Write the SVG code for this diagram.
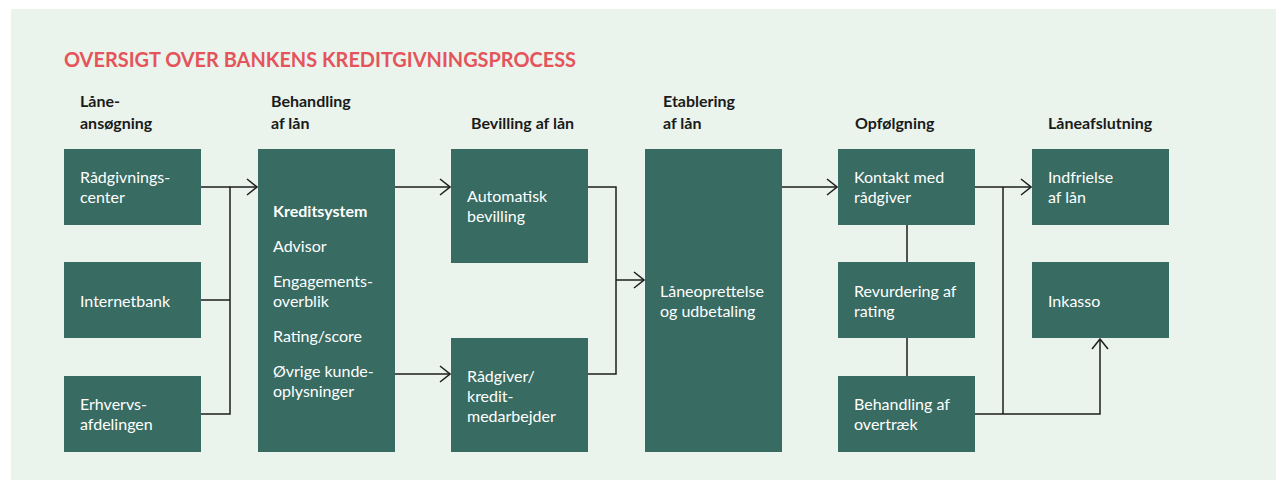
<svg xmlns="http://www.w3.org/2000/svg" width="1276" height="482" viewBox="0 0 1276 482">
<defs>
<style>
.box{fill:#386b62}
.t{font-family:Lato,"Open Sans","Liberation Sans",sans-serif;font-size:16px;fill:#ffffff}
.tb{font-weight:bold}
.h{font-family:Lato,"Open Sans","Liberation Sans",sans-serif;font-size:16px;font-weight:bold;fill:#1a1a1a}
.title{font-family:Lato,"Open Sans","Liberation Sans",sans-serif;font-size:20px;font-weight:bold;fill:#e5535b}
.c{fill:none;stroke:#1e1e1e;stroke-width:1.5}
</style>
<marker id="arr" markerUnits="userSpaceOnUse" viewBox="0 0 12 18" markerWidth="12" markerHeight="18" refX="11" refY="9" orient="auto">
<path d="M1,1 L11,9 L1,17" fill="none" stroke="#1e1e1e" stroke-width="1.5"/>
</marker>
</defs>
<rect x="11" y="9" width="1265" height="471" fill="#eaf4ec"/>
<text class="title" x="64" y="67" textLength="512" lengthAdjust="spacingAndGlyphs">OVERSIGT OVER BANKENS KREDITGIVNINGSPROCESS</text>
<g id="headers">
<text class="h" x="80" y="107">Låne-</text>
<text class="h" x="80" y="129">ansøgning</text>
<text class="h" x="271" y="107">Behandling</text>
<text class="h" x="271" y="129">af lån</text>
<text class="h" x="471" y="129">Bevilling af lån</text>
<text class="h" x="663" y="107">Etablering</text>
<text class="h" x="663" y="129">af lån</text>
<text class="h" x="855" y="129">Opfølgning</text>
<text class="h" x="1048" y="129">Låneafslutning</text>
</g>
<g id="connectors">
<path class="c" d="M201,187 H230"/>
<path class="c" d="M201,300 H230"/>
<path class="c" d="M201,414 H230 V187 H257" marker-end="url(#arr)"/>
<path class="c" d="M395,187 H450" marker-end="url(#arr)"/>
<path class="c" d="M395,374 H450" marker-end="url(#arr)"/>
<path class="c" d="M588,187 H616 V374 H588"/>
<path class="c" d="M616,280 H644" marker-end="url(#arr)"/>
<path class="c" d="M782,187 H837" marker-end="url(#arr)"/>
<path class="c" d="M907,225 V262"/>
<path class="c" d="M907,338 V376"/>
<path class="c" d="M975,187 H1031" marker-end="url(#arr)"/>
<path class="c" d="M1003,187 V414"/>
<path class="c" d="M975,414 H1100 V339" marker-end="url(#arr)"/>
</g>
<g id="raadgivningscenter"><rect class="box" x="64" y="149" width="137" height="76"/><text class="t" x="80" y="183">Rådgivnings-</text><text class="t" x="80" y="203">center</text></g>
<g id="internetbank"><rect class="box" x="64" y="262" width="137" height="76"/><text class="t" x="80" y="307">Internetbank</text></g>
<g id="erhvervsafdelingen"><rect class="box" x="64" y="376" width="137" height="76"/><text class="t" x="80" y="410">Erhvervs-</text><text class="t" x="80" y="430">afdelingen</text></g>
<g id="kreditsystem"><rect class="box" x="258" y="149" width="137" height="303"/>
<text class="t tb" x="273" y="217">Kreditsystem</text>
<text class="t" x="273" y="252">Advisor</text>
<text class="t" x="273" y="287">Engagements-</text>
<text class="t" x="273" y="307">overblik</text>
<text class="t" x="273" y="342">Rating/score</text>
<text class="t" x="273" y="377">Øvrige kunde-</text>
<text class="t" x="273" y="397">oplysninger</text>
</g>
<g id="automatisk"><rect class="box" x="451" y="149" width="137" height="114"/><text class="t" x="467" y="202">Automatisk</text><text class="t" x="467" y="222">bevilling</text></g>
<g id="raadgiver"><rect class="box" x="451" y="338" width="137" height="114"/><text class="t" x="467" y="382">Rådgiver/</text><text class="t" x="467" y="402">kredit-</text><text class="t" x="467" y="422">medarbejder</text></g>
<g id="laaneoprettelse"><rect class="box" x="645" y="149" width="137" height="303"/><text class="t" x="660" y="297">Låneoprettelse</text><text class="t" x="660" y="317">og udbetaling</text></g>
<g id="kontakt"><rect class="box" x="838" y="149" width="137" height="76"/><text class="t" x="854" y="183">Kontakt med</text><text class="t" x="854" y="203">rådgiver</text></g>
<g id="revurdering"><rect class="box" x="838" y="262" width="137" height="76"/><text class="t" x="854" y="297">Revurdering af</text><text class="t" x="854" y="317">rating</text></g>
<g id="overtraek"><rect class="box" x="838" y="376" width="137" height="76"/><text class="t" x="854" y="410">Behandling af</text><text class="t" x="854" y="430">overtræk</text></g>
<g id="indfrielse"><rect class="box" x="1032" y="149" width="137" height="76"/><text class="t" x="1048" y="183">Indfrielse</text><text class="t" x="1048" y="203">af lån</text></g>
<g id="inkasso"><rect class="box" x="1032" y="262" width="137" height="76"/><text class="t" x="1048" y="307">Inkasso</text></g>
</svg>
